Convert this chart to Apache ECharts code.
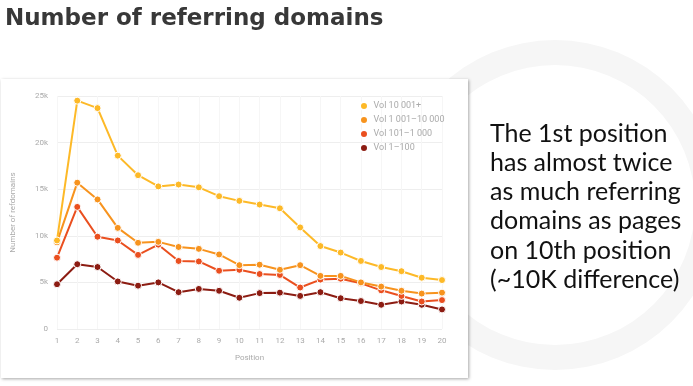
<!DOCTYPE html>
<html><head><meta charset="utf-8">
<style>html,body{margin:0;padding:0;background:#fff;}#c{width:693px;height:386px;}</style>
<script src="https://cdn.jsdelivr.net/npm/echarts@6/dist/echarts.min.js"></script>
</head><body><div id="c"></div>
<script>
var positions = ['1','2','3','4','5','6','7','8','9','10','11','12','13','14','15','16','17','18','19','20'];
var seriesNames = ['Vol 10 001+', 'Vol 1 001\u201310 000', 'Vol 101\u20131 000', 'Vol 1\u2013100'];
var vol10001 = [9500, 24500, 23700, 18600, 16500, 15300, 15500, 15200, 14250, 13750, 13350, 12950, 10900, 8900, 8200, 7300, 6650, 6200, 5500, 5250];
var vol1001 = [9300, 15700, 13900, 10850, 9250, 9350, 8800, 8600, 8000, 6850, 6900, 6350, 6850, 5700, 5700, 5000, 4550, 4100, 3800, 3900];
var vol101 = [7650, 13100, 9900, 9500, 7950, 9050, 7300, 7250, 6250, 6350, 5900, 5800, 4450, 5300, 5400, 4900, 4150, 3550, 2950, 3100];
var vol1 = [4800, 6950, 6650, 5100, 4650, 5000, 3950, 4300, 4100, 3350, 3850, 3900, 3550, 3950, 3300, 3000, 2600, 2950, 2600, 2100];
var colors = ['#fdb927', '#f7931e', '#ea4f1f', '#8c1c12'];
var titleText = 'Number of referring domains';
var noteLines = ['The 1st position', 'has almost twice', 'as much referring', 'domains as pages', 'on 10th position', '(~10K difference)'];

var chart = echarts.init(document.getElementById('c'));
var allData = [vol10001, vol1001, vol101, vol1];
var series = allData.map(function (d, i) {
  return {
    name: seriesNames[i], type: 'line', data: d, z: 10 - i,
    symbol: 'circle', symbolSize: 7,
    lineStyle: { color: colors[i], width: 2 },
    itemStyle: { color: colors[i], borderColor: '#fff', borderWidth: 1 }
  };
});
var graphics = [
  { type: 'ring', shape: { cx: 555, cy: 205, r: 165, r0: 140 }, style: { fill: '#f6f6f6' }, z: -10, silent: true },
  { type: 'rect', shape: { x: 1, y: 79, width: 467, height: 299 }, style: { fill: '#fff', shadowBlur: 3, shadowColor: 'rgba(0,0,0,0.35)', shadowOffsetX: 1, shadowOffsetY: 1 }, z: -5, silent: true },
  { type: 'text', left: 5, top: 8, style: { text: titleText, fill: '#383838', font: 'bold 23px "DejaVu Sans"' } }
];
noteLines.forEach(function (t, i) {
  graphics.push({ type: 'text', left: 490, top: 121 + i * 29.3, style: { text: t, fill: '#111', font: '25px Lato' } });
});
chart.setOption({
  backgroundColor: '#fff',
  animation: false,
  color: colors,
  graphic: graphics,
  legend: {
    orient: 'vertical', left: 354, top: 96, itemGap: 4, itemWidth: 9, itemHeight: 8, icon: 'circle',
    textStyle: { color: '#aaa', fontSize: 9, fontFamily: 'Roboto' },
    data: seriesNames
  },
  grid: { left: 57, right: 251, top: 96, bottom: 57 },
  xAxis: {
    type: 'category', data: positions, boundaryGap: false,
    name: 'Position', nameLocation: 'middle', nameGap: 25,
    nameTextStyle: { color: '#aaa', fontSize: 8, fontFamily: 'Roboto' },
    axisLine: { show: false }, axisTick: { show: false },
    axisLabel: { color: '#aaa', fontSize: 8, fontFamily: 'Roboto', margin: 8 },
    splitLine: { show: true, lineStyle: { color: '#f6f6f6' } }
  },
  yAxis: {
    type: 'value', min: 0, max: 25000, interval: 5000,
    name: 'Number of refdomains', nameLocation: 'middle', nameGap: 40, nameRotate: 90,
    nameTextStyle: { color: '#aaa', fontSize: 8, fontFamily: 'Roboto' },
    axisLine: { show: false }, axisTick: { show: false },
    axisLabel: { color: '#aaa', fontSize: 8, fontFamily: 'Roboto', margin: 9, formatter: function (v) { return v === 0 ? '0' : (v / 1000) + 'k'; } },
    splitLine: { lineStyle: { color: '#eeeeee' } }
  },
  series: series
});
</script></body></html>
